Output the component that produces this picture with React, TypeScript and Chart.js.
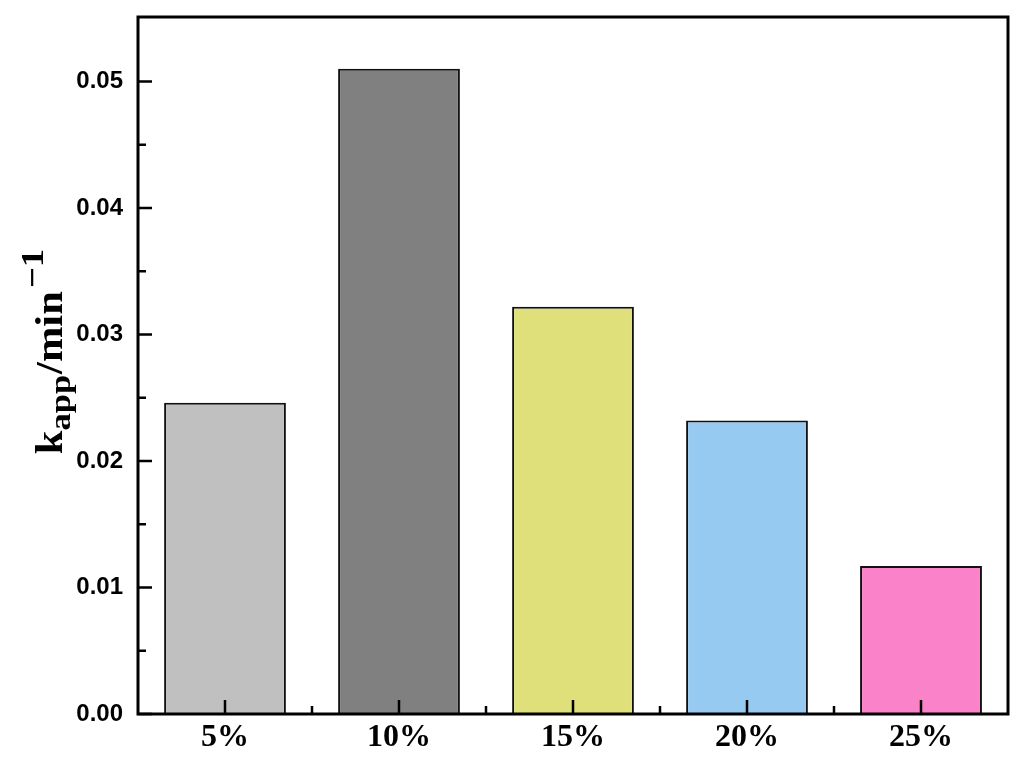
import React, { useEffect, useRef } from "react";
import { Chart, registerables } from "chart.js";

Chart.register(...registerables);

const categories = ["5%", "10%", "15%", "20%", "25%"];
const kappValues = [0.0246, 0.051, 0.0322, 0.0232, 0.0117];
const barColors = ["#c0c0c0", "#808080", "#e0e07a", "#96caf0", "#fa82c8"];
const yTickValues = [0, 0.01, 0.02, 0.03, 0.04, 0.05];
const yMinorValues = [0.005, 0.015, 0.025, 0.035, 0.045];
const yMin = 0;
const yMax = 0.0551;
// y-axis title pieces: text, font size, baseline shift, gap after
const titleParts = [
  { text: "k", size: 37, shift: 0, gap: 0 },
  { text: "app", size: 30, shift: 8, gap: 1 },
  { text: "/min", size: 37, shift: 0, gap: 3 },
  { text: "\u22121", size: 32, shift: -19, gap: 0 },
];
const titleStretch = 1.15;

const framePlugin = {
  id: "frameTicksTitle",
  afterDraw(chart: any) {
    const { ctx, chartArea: a, scales } = chart;
    const xs = scales.x;
    const ys = scales.y;
    ctx.save();
    ctx.strokeStyle = "#000";
    ctx.lineCap = "butt";
    ctx.lineWidth = 2.5;
    ctx.beginPath();
    yTickValues.forEach((v) => {
      const py = ys.getPixelForValue(v);
      ctx.moveTo(a.left, py);
      ctx.lineTo(a.left + 14, py);
    });
    yMinorValues.forEach((v) => {
      const py = ys.getPixelForValue(v);
      ctx.moveTo(a.left, py);
      ctx.lineTo(a.left + 8, py);
    });
    categories.forEach((_, i) => {
      const px = xs.getPixelForValue(i);
      ctx.moveTo(px, a.bottom);
      ctx.lineTo(px, a.bottom - 14);
      if (i < categories.length - 1) {
        const pm = xs.getPixelForValue(i + 0.5);
        ctx.moveTo(pm, a.bottom);
        ctx.lineTo(pm, a.bottom - 8);
      }
    });
    ctx.stroke();
    ctx.lineWidth = 3;
    ctx.strokeRect(a.left, a.top, a.right - a.left, a.bottom - a.top);

    // y-axis title with subscript / superscript
    ctx.fillStyle = "#000";
    ctx.textAlign = "left";
    ctx.textBaseline = "alphabetic";
    let total = 0;
    const widths = titleParts.map((p) => {
      ctx.font = `bold ${p.size}px "Liberation Serif"`;
      const w = ctx.measureText(p.text).width * titleStretch;
      total += w + p.gap;
      return w;
    });
    const centerY = (a.top + a.bottom) / 2 - 14;
    ctx.translate(62, centerY + total / 2);
    ctx.rotate(-Math.PI / 2);
    let cx = 0;
    titleParts.forEach((p, i) => {
      ctx.save();
      ctx.font = `bold ${p.size}px "Liberation Serif"`;
      ctx.translate(cx, p.shift);
      ctx.scale(titleStretch, 1);
      ctx.fillText(p.text, 0, 0);
      ctx.restore();
      cx += widths[i] + p.gap;
    });
    ctx.restore();
  },
};

export default function App() {
  const ref = useRef<HTMLCanvasElement | null>(null);
  useEffect(() => {
    if (!ref.current) return;
    const chart = new Chart(ref.current, {
      type: "bar",
      data: {
        labels: categories,
        datasets: [
          {
            data: kappValues,
            backgroundColor: barColors,
            borderColor: "#111",
            borderWidth: 2,
            barPercentage: 0.7,
            categoryPercentage: 1,
          },
        ],
      },
      options: {
        animation: false,
        responsive: true,
        maintainAspectRatio: false,
        layout: { padding: { top: 17, right: 16, left: 0, bottom: 0 } },
        plugins: { legend: { display: false }, tooltip: { enabled: false } },
        scales: {
          x: {
            grid: { display: false, drawTicks: false },
            border: { display: false },
            ticks: {
              color: "#000",
              padding: 5,
              font: { family: '"Liberation Serif"', size: 32, weight: "bold" },
            },
            afterFit: (s: any) => {
              s.height = 55;
              s.paddingLeft = 0;
              s.paddingRight = 0;
            },
          },
          y: {
            min: yMin,
            max: yMax,
            grid: { display: false, drawTicks: false },
            border: { display: false },
            ticks: {
              includeBounds: false,
              color: "#000",
              padding: 15,
              font: { family: '"Liberation Sans"', size: 24, weight: "bold" },
              callback: (v: any) => Number(v).toFixed(2),
            },
            afterBuildTicks: (s: any) => {
              s.ticks = yTickValues.map((v) => ({ value: v }));
            },
            afterFit: (s: any) => {
              s.width = 138;
              s.paddingTop = 0;
              s.paddingBottom = 0;
            },
          },
        },
      },
      plugins: [framePlugin],
    });
    return () => chart.destroy();
  }, []);
  return (
    <div style={{ position: "absolute", left: 0, top: 0, width: 1024, height: 769, background: "#fff" }}>
      <canvas ref={ref} />
    </div>
  );
}
